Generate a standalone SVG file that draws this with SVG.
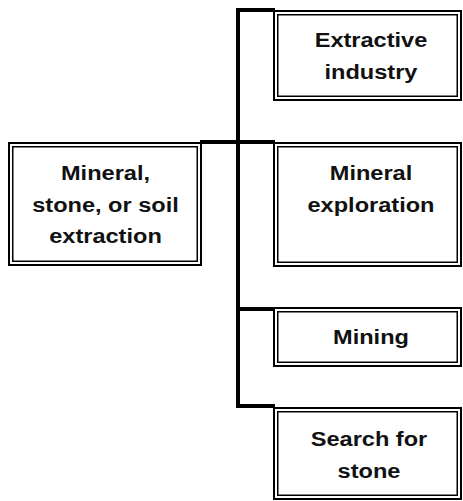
<svg xmlns="http://www.w3.org/2000/svg" width="463" height="501" viewBox="0 0 463 501">
<style>
.o{fill:#fff;stroke:#000;stroke-width:2}
.i{fill:none;stroke:#000;stroke-width:1.5}
.c{fill:none;stroke:#000;stroke-width:4;stroke-linecap:square;stroke-linejoin:miter}
.t{font-family:"Liberation Sans",Arial,sans-serif;font-weight:bold;font-size:20.5px;fill:#111;text-anchor:middle}
</style>
<rect width="463" height="501" fill="#fff"/>
<g id="connectors">
<path class="c" d="M273 10 H238 V406 H273"/>
<path class="c" d="M202 142 H273"/>
<path class="c" d="M238 309 H273"/>
</g>
<g id="n-extractive">
<rect class="o" x="274" y="11" width="187" height="89"/>
<rect class="i" x="277.75" y="14.75" width="179.5" height="81.5"/>
<text class="t" transform="translate(371,0) scale(1.15,1)"><tspan x="0" y="47">Extractive</tspan><tspan x="0" y="79">industry</tspan></text>
</g>
<g id="n-root">
<rect class="o" x="9" y="143" width="192" height="122"/>
<rect class="i" x="12.75" y="146.75" width="184.5" height="114.5"/>
<text class="t" transform="translate(105.5,0) scale(1.15,1)"><tspan x="0" y="180">Mineral,</tspan><tspan x="0" y="212">stone, or soil</tspan><tspan x="0" y="243.5">extraction</tspan></text>
</g>
<g id="n-exploration">
<rect class="o" x="274" y="143" width="187" height="123"/>
<rect class="i" x="277.75" y="146.75" width="179.5" height="115.5"/>
<text class="t" transform="translate(371,0) scale(1.15,1)"><tspan x="0" y="180">Mineral</tspan><tspan x="0" y="212">exploration</tspan></text>
</g>
<g id="n-mining">
<rect class="o" x="274" y="308" width="187" height="58"/>
<rect class="i" x="277.75" y="311.75" width="179.5" height="50.5"/>
<text class="t" transform="translate(371,0) scale(1.15,1)"><tspan x="0" y="344">Mining</tspan></text>
</g>
<g id="n-search">
<rect class="o" x="274" y="408" width="187" height="91"/>
<rect class="i" x="277.75" y="411.75" width="179.5" height="83.5"/>
<text class="t" transform="translate(369,0) scale(1.15,1)"><tspan x="0" y="446">Search for</tspan><tspan x="0" y="478">stone</tspan></text>
</g>
</svg>
